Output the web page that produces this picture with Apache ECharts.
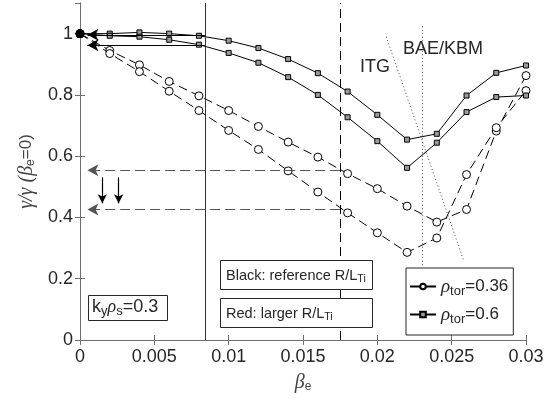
<!DOCTYPE html>
<html><head><meta charset="utf-8">
<script src="https://cdn.jsdelivr.net/npm/echarts@6/dist/echarts.min.js"></script>
<style>html,body{margin:0;padding:0;background:#fff}#c{width:553px;height:403px}</style>
</head><body><div id="c"></div>
<script>
// ---- data ----
const betaE = [0, 0.002, 0.004, 0.006, 0.008, 0.010, 0.012, 0.014, 0.016, 0.018, 0.020, 0.022, 0.024, 0.026, 0.028, 0.030];
const rho036Black = [1.0, 0.945, 0.898, 0.844, 0.797, 0.749, 0.697, 0.646, 0.597, 0.543, 0.494, 0.437, 0.385, 0.426, 0.682, 0.863];
const rho036Red   = [1.0, 0.935, 0.876, 0.812, 0.749, 0.684, 0.622, 0.552, 0.483, 0.415, 0.350, 0.286, 0.333, 0.540, 0.693, 0.814];
const rho06Black  = [1.0, 1.0, 1.004, 1.0, 0.993, 0.977, 0.953, 0.917, 0.871, 0.811, 0.735, 0.654, 0.673, 0.798, 0.872, 0.896];
const rho06Red    = [1.0, 0.993, 0.990, 0.980, 0.964, 0.937, 0.905, 0.858, 0.800, 0.727, 0.649, 0.562, 0.644, 0.744, 0.793, 0.798];
const legendNames = ['0.36', '0.6'];
const xTicks = [0, 0.005, 0.01, 0.015, 0.02, 0.025, 0.03];
const yTicks = [0, 0.2, 0.4, 0.6, 0.8, 1];
// annotation geometry (data coordinates)
const vSolidX = 0.0084;
const vDashX = 0.0175;
const solidArrowY = [0.996, 0.962];
const dashArrowY = [0.554, 0.426];
const arrowTipX = 0.0005;
const downArrowX = [0.0015, 0.0026];
const downArrowY = [0.531, 0.446];
const dotV = [[0.023, 0.244], [0.023, 1.03]];
const dotSlant = [[0.0206, 0.99], [0.0258, 0.26]];

const pairs = ys => betaE.map((x, i) => [x, ys[i]]);
const AX = '#6e6e6e', TX = '#262626';

const chart = echarts.init(document.getElementById('c'), null, {renderer: 'canvas'});

const circleStyle = {symbol: 'circle', symbolSize: 8, itemStyle: {color: '#fff', borderColor: '#000', borderWidth: 1}};
const squareStyle = {symbol: 'rect', symbolSize: 5, itemStyle: {color: '#9a9a9a', borderColor: '#000', borderWidth: 1}};

function mkSeries(name, ys, st, dashed) {
  const s = Object.assign({
    type: 'line', name: name, data: pairs(ys), showSymbol: true, animation: false,
    lineStyle: {color: '#000', width: 1, type: dashed ? [9, 5] : 'solid'}, z: 3
  }, JSON.parse(JSON.stringify(st)));
  // common starting point at beta_e = 0 drawn as a filled black dot
  s.data[0] = {value: s.data[0], symbol: 'circle', symbolSize: 8, itemStyle: {color: '#000', borderColor: '#000'}};
  return s;
}

const ml = [];
ml.push([{coord: [vSolidX, 0], symbol: 'none'}, {coord: [vSolidX, 1.1], symbol: 'none', lineStyle: {color: '#333', width: 1, type: 'solid'}}]);
ml.push([{coord: [vDashX, 0], symbol: 'none'}, {coord: [vDashX, 1.1], symbol: 'none', lineStyle: {color: '#000', width: 1, type: [9, 5]}}]);
solidArrowY.forEach(y => ml.push([{coord: [vSolidX, y], symbol: 'none'}, {coord: [arrowTipX, y], symbol: 'arrow', symbolSize: [9, 11], lineStyle: {color: '#000', width: 1, type: 'solid'}}]));
dashArrowY.forEach(y => ml.push([{coord: [vDashX, y], symbol: 'none'}, {coord: [arrowTipX, y], symbol: 'arrow', symbolSize: [9, 11], lineStyle: {color: '#555', width: 1, type: [10, 5]}}]));
downArrowX.forEach(x => ml.push([{coord: [x, downArrowY[0]], symbol: 'none'}, {coord: [x, downArrowY[1]], symbol: 'arrow', symbolSize: [7, 9], lineStyle: {color: '#000', width: 1.2, type: 'solid'}}]));
ml.push([{coord: dotV[0], symbol: 'none'}, {coord: dotV[1], symbol: 'none', lineStyle: {color: '#222', width: 0.8, type: [1, 2.5]}}]);
ml.push([{coord: dotSlant[0], symbol: 'none'}, {coord: dotSlant[1], symbol: 'none', lineStyle: {color: '#222', width: 0.8, type: [1, 2.5]}}]);

const subRich = {
  g: {fontFamily: 'Liberation Serif', fontStyle: 'italic', fontSize: 20, color: '#444'},
  t: {fontFamily: 'Liberation Sans', fontSize: 17, color: '#444'},
  s: {fontFamily: 'Liberation Sans', fontSize: 12, color: '#444', padding: [9, 0, 0, 0]}
};

const option = {
  backgroundColor: '#fff',
  animation: false,
  grid: {left: 80, right: 27, top: 3, bottom: 63},
  xAxis: [{
    type: 'value', min: xTicks[0], max: xTicks[xTicks.length - 1], interval: xTicks[1] - xTicks[0],
    axisLine: {lineStyle: {color: AX, width: 1}}, axisTick: {inside: true, length: 5, lineStyle: {color: AX}},
    axisLabel: {fontFamily: 'Liberation Sans', fontSize: 18, color: TX, margin: 8},
    splitLine: {show: false},
    name: '{g|β}{s|e}', nameLocation: 'middle', nameGap: 32,
    nameTextStyle: {rich: subRich}
  }, {
    type: 'value', position: 'top', min: xTicks[0], max: xTicks[xTicks.length - 1], interval: xTicks[1] - xTicks[0],
    axisLine: {lineStyle: {color: AX}}, axisTick: {inside: true, length: 5, lineStyle: {color: AX}},
    axisLabel: {show: false}, splitLine: {show: false}
  }],
  yAxis: [{
    type: 'value', min: yTicks[0], max: 1.1, interval: yTicks[1] - yTicks[0],
    axisLine: {show: true, lineStyle: {color: AX}}, axisTick: {show: true, inside: true, length: 5, lineStyle: {color: AX}},
    axisLabel: {fontFamily: 'Liberation Sans', fontSize: 18, color: TX, margin: 7, showMaxLabel: false,
      formatter: v => (v > 1.05 ? '' : String(+v.toFixed(2)))},
    splitLine: {show: false},
    name: '{g|γ/γ (β}{s|e}{t|=0)}', nameLocation: 'middle', nameRotate: 90, nameGap: 36,
    nameTextStyle: {rich: subRich}
  }, {
    type: 'value', position: 'right', min: yTicks[0], max: 1.1, interval: yTicks[1] - yTicks[0],
    axisLine: {show: true, lineStyle: {color: AX}}, axisTick: {show: true, inside: true, length: 5, lineStyle: {color: AX}},
    axisLabel: {show: false}, splitLine: {show: false}
  }],
  legend: {
    left: 406, top: 268, orient: 'vertical', data: legendNames,
    borderColor: '#262626', borderWidth: 1, borderRadius: 0, padding: [9, 5, 9, 3], itemGap: 7,
    itemWidth: 26, itemHeight: 7,
    formatter: n => '{r|ρ}{s|tor}{n|=' + n + '}',
    textStyle: {rich: {
      r: {fontFamily: 'Liberation Serif', fontStyle: 'italic', fontSize: 19, color: TX},
      s: {fontFamily: 'Liberation Sans', fontSize: 13, color: TX, padding: [10, 0, 0, 0]},
      n: {fontFamily: 'Liberation Sans', fontSize: 17, color: TX}
    }}
  },
  series: [
    mkSeries('a', rho036Black, circleStyle, true),
    mkSeries('b', rho036Red, circleStyle, true),
    mkSeries('c', rho06Black, squareStyle, false),
    mkSeries('d', rho06Red, squareStyle, false),
    {type: 'line', name: legendNames[0], data: [], lineStyle: {color: '#000', width: 1}, symbol: 'circle', symbolSize: 6, itemStyle: {color: '#fff', borderColor: '#000', borderWidth: 1}},
    {type: 'line', name: legendNames[1], data: [], lineStyle: {color: '#000', width: 1}, symbol: 'rect', symbolSize: 5, itemStyle: {color: '#9a9a9a', borderColor: '#000', borderWidth: 1}},
    {type: 'line', name: 'ann', data: [], silent: true, z: 2,
      markLine: {silent: true, animation: false, label: {show: false}, symbol: 'none', data: ml}}
  ],
  graphic: [
    {type: 'text', left: 360, top: 58, z: 10, style: {text: 'ITG', fontFamily: 'Liberation Sans', fontSize: 18, fill: TX}},
    {type: 'text', left: 403, top: 40, z: 10, style: {text: 'BAE/KBM', fontFamily: 'Liberation Sans', fontSize: 18, fill: TX}},
    {type: 'rect', z: 10, shape: {x: 220.5, y: 260.5, width: 152, height: 29}, style: {fill: '#fff', stroke: '#262626', lineWidth: 1}},
    {type: 'text', z: 11, x: 226, y: 266, style: {text: '{t|Black: reference R/L}{s|Ti}', rich: {
      t: {fontFamily: 'Liberation Sans', fontSize: 14.5, fill: TX},
      s: {fontFamily: 'Liberation Sans', fontSize: 10.5, fill: TX, padding: [8, 0, 0, 0]}}}},
    {type: 'rect', z: 10, shape: {x: 220.5, y: 298.5, width: 152, height: 29}, style: {fill: '#fff', stroke: '#262626', lineWidth: 1}},
    {type: 'text', z: 11, x: 226, y: 304, style: {text: '{t|Red: larger R/L}{s|Ti}', rich: {
      t: {fontFamily: 'Liberation Sans', fontSize: 14.5, fill: TX},
      s: {fontFamily: 'Liberation Sans', fontSize: 10.5, fill: TX, padding: [8, 0, 0, 0]}}}},
    {type: 'rect', z: 10, shape: {x: 88.5, y: 295.5, width: 79, height: 25}, style: {fill: '#fff', stroke: '#262626', lineWidth: 1}},
    {type: 'text', z: 11, x: 92, y: 296, style: {text: '{t|k}{s|y}{r|ρ}{s|s}{t|=0.3}', rich: {
      t: {fontFamily: 'Liberation Sans', fontSize: 18, fill: TX},
      r: {fontFamily: 'Liberation Serif', fontStyle: 'italic', fontSize: 18, fill: TX},
      s: {fontFamily: 'Liberation Sans', fontSize: 13, fill: TX, padding: [9, 0, 0, 0]}}}}
  ]
};
chart.setOption(option);
</script></body></html>
